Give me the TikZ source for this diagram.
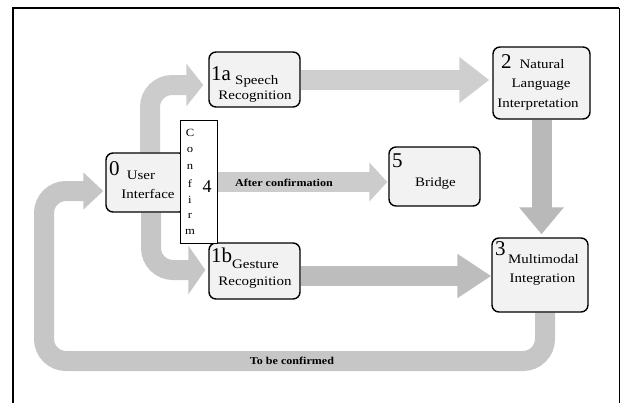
\documentclass[tikz,border=0pt]{standalone}
\usepackage{fontspec}
\setmainfont{Liberation Serif}[FakeStretch=1.15]
\newfontfamily\numfont{Liberation Serif}
\usetikzlibrary{arrows.meta,calc,backgrounds}
\begin{document}
\begin{tikzpicture}[x=1pt,y=-1pt,
  box/.style={draw, line width=1.4pt, rounded corners=7pt, fill=gray!10, inner sep=0pt},
  fat/.style={draw=#1, line width=20pt, line cap=butt, rounded corners=22pt},
  tipA/.style 2 args={-{Triangle[width=#1,length=#2]}},
  txt/.style={inner sep=0pt, font=\fontsize{13}{15}\selectfont},
  num/.style={inner sep=0pt, anchor=base west, font=\numfont\fontsize{21}{23}\selectfont},
  vlet/.style={inner sep=0pt, font=\fontsize{11}{13}\selectfont},
  lbl/.style={inner sep=0pt, font=\bfseries\fontsize{10.5}{12}\selectfont}]
\useasboundingbox (0,0) rectangle (621,402);
% frame
\draw[line width=2.5pt] (13,403) -- (13,8) -- (619,8);
\draw[line width=0.7pt] (619.5,8) -- (619.5,403);
% boxes
\node[box, minimum width=91pt, minimum height=55pt] (sr) at (254.5,79.5) {};
\node[box, minimum width=97pt, minimum height=72pt] (nl) at (541.5,83) {};
\node[box, minimum width=80pt, minimum height=59pt] (ui) at (146,182.5) {};
\node[box, minimum width=91pt, minimum height=59pt] (br) at (434.5,176.5) {};
\node[box, minimum width=91pt, minimum height=56pt] (gr) at (254.5,271) {};
\node[box, minimum width=96pt, minimum height=74pt] (mi) at (540,275) {};
\node[draw, line width=0.6pt, fill=white, minimum width=37pt, minimum height=123pt, inner sep=0pt] (cf) at (198.5,181.5) {};
\coordinate (lb) at (44,361);
% arrows
\begin{scope}[on background layer]
\draw[fat=gray!40, tipA={42pt}{17pt}] ($(ui.north)+(4,0)$) |- ($(sr.west)+(-5,5.5)$);
\draw[fat=gray!38, tipA={44pt}{30pt}] ($(sr.east)+(0,0.5)$) -- ($(nl.west)+(-3,-3)$);
\draw[fat=gray!55, tipA={43pt}{27pt}] (nl.south) -- ($(nl.south |- mi.north)+(0,-3)$);
\draw[fat=gray!40, tipA={38pt}{18pt}] ($(cf.east)+(0,0.5)$) -- ($(br.west)+(-1,5.5)$);
\draw[fat=gray!45, tipA={48pt}{17pt}] ($(ui.south)+(5,0)$) |- ($(gr.west)+(-3,-1)$);
\draw[fat=gray!52, tipA={42pt}{34pt}] ($(gr.east)+(0,5)$) -- ($(mi.west)+(0,1)$);
\draw[fat=gray!45, tipA={36pt}{20pt}] ($(mi.south)+(5,0)$) |- (lb) |- ($(ui.west)+(-2,8.5)$);
\end{scope}
% labels on arrows
\node[lbl] (ac) at (284,183) {After confirmation};
\node[lbl] (tbc) at (292,361) {To be confirmed};
% texts
\node[num] (n1a) at (211,80) {1a};
\node[txt, anchor=base west] (t1a) at (235,84) {Speech};
\node[txt, anchor=base] (t1b) at (255,99) {Recognition};
\node[num] (n2) at (501,68) {2};
\node[txt, anchor=base] (t2a) at (542,68) {Natural};
\node[txt, anchor=base] (t2b) at (541,87) {Language};
\node[txt, anchor=base] (t2c) at (538,107) {Interpretation};
\node[num] (n0) at (109,175) {0};
\node[txt, anchor=base] (t0a) at (141,179) {User};
\node[txt, anchor=base] (t0b) at (148,198) {Interface};
\node[num] (n5) at (392,167) {5};
\node[txt, anchor=base] (t5) at (435.5,186) {Bridge};
\node[num] (n1b) at (211,262) {1b};
\node[txt, anchor=base west] (tga) at (232,268) {Gesture};
\node[txt, anchor=base] (tgb) at (255,285) {Recognition};
\node[num] (n3) at (495,255) {3};
\node[txt, anchor=base] (t3a) at (543.5,263) {Multimodal};
\node[txt, anchor=base] (t3b) at (542.5,282) {Integration};
% confirm column
\node[vlet] (c1) at (190,133) {C};
\node[vlet] (c2) at (190,150) {o};
\node[vlet] (c3) at (190,167) {n};
\node[vlet] (c4) at (190,184) {f};
\node[vlet] (c5) at (190,200) {i};
\node[vlet] (c6) at (190,216) {r};
\node[vlet] (c7) at (190,232) {m};
\node[inner sep=0pt, font=\numfont\fontsize{18}{20}\selectfont] (n4) at (207,187) {4};
\end{tikzpicture}
\end{document}
